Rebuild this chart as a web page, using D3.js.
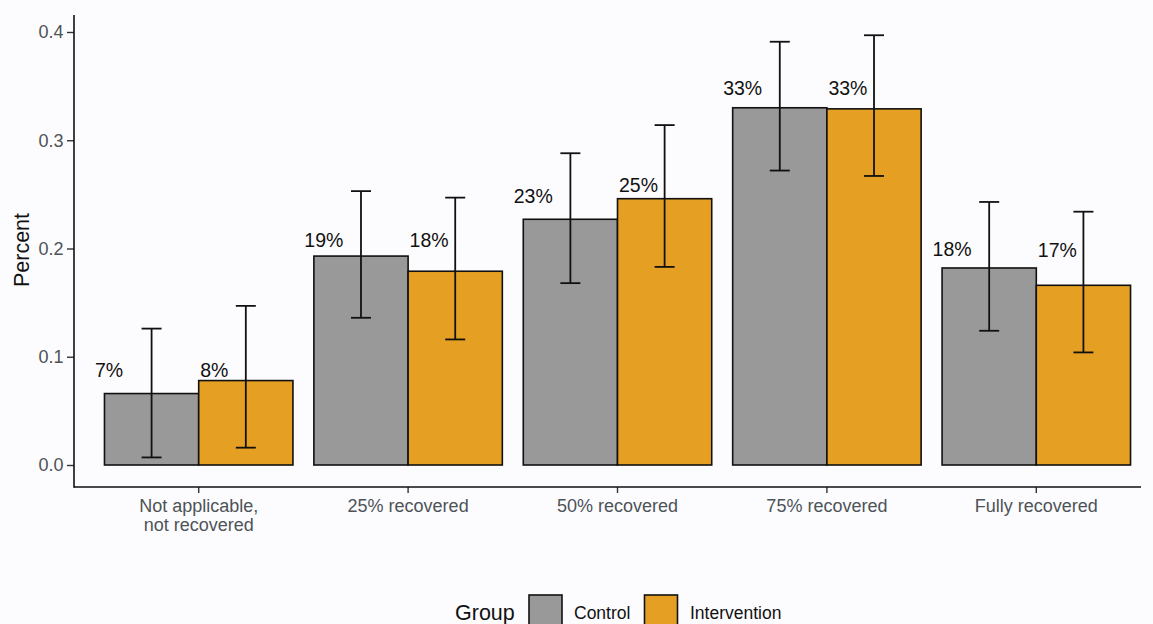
<!DOCTYPE html>
<html>
<head>
<meta charset="utf-8">
<script src="https://cdn.jsdelivr.net/npm/d3@7"></script>
<style>
  html, body { margin: 0; padding: 0; background: #fcfcfe; }
  svg { display: block; font-family: "Liberation Sans", Arial, Helvetica, sans-serif; }
</style>
</head>
<body>
<svg id="chart" width="1153" height="624"></svg>
<script>
// Recovery categories (x axis)
const categories = [
  "Not applicable,\nnot recovered",
  "25% recovered",
  "50% recovered",
  "75% recovered",
  "Fully recovered"
];
const groups = ["Control", "Intervention"];

// Proportion of participants in each category, per group
const controlPct      = [0.066, 0.193, 0.227, 0.330, 0.182];
const interventionPct = [0.078, 0.179, 0.246, 0.329, 0.166];

// Confidence interval bounds
const controlLower      = [0.007, 0.136, 0.168, 0.272, 0.124];
const controlUpper      = [0.126, 0.253, 0.288, 0.391, 0.243];
const interventionLower = [0.016, 0.116, 0.183, 0.267, 0.104];
const interventionUpper = [0.147, 0.247, 0.314, 0.397, 0.234];

const yTicks = [0, 0.1, 0.2, 0.3, 0.4];

// ---- layout ----
const colors = { Control: "#999999", Intervention: "#E5A024" };
const axisTextColor = "#4d5357";

// Vertical lift (px) of each percentage label above its bar top,
// so labels clear the error bars.
const labelLift = {
  Control:      [16.6, 9.5, 16, 12.8, 11.5],
  Intervention: [3.6, 24.5, 6.7, 14, 28.8]
};

const rows = [];
categories.forEach((c, i) => {
  rows.push({ cat: c, i, group: "Control", value: controlPct[i], lo: controlLower[i], hi: controlUpper[i] });
  rows.push({ cat: c, i, group: "Intervention", value: interventionPct[i], lo: interventionLower[i], hi: interventionUpper[i] });
});

const svg = d3.select("#chart");

const x = d3.scaleBand().domain(categories).range([94, 1141]).paddingInner(0.1).paddingOuter(0.05);
const xg = d3.scaleBand().domain(groups).range([0, x.bandwidth()]);
const y = d3.scaleLinear().domain([0, 0.4]).range([465, 32]);

const axisX0 = 74, axisY0 = 487;

// bars
svg.append("g").selectAll("rect").data(rows).join("rect")
  .attr("x", d => x(d.cat) + xg(d.group))
  .attr("y", d => y(d.value))
  .attr("width", xg.bandwidth())
  .attr("height", d => y(0) - y(d.value))
  .attr("fill", d => colors[d.group])
  .attr("stroke", "#111")
  .attr("stroke-width", 1.6);

// error bars
const capHalf = 10;
const errG = svg.append("g").attr("stroke", "#111").attr("stroke-width", 1.8).attr("fill", "none");
rows.forEach(d => {
  const cx = x(d.cat) + xg(d.group) + xg.bandwidth() / 2;
  errG.append("line").attr("x1", cx).attr("x2", cx).attr("y1", y(d.hi)).attr("y2", y(d.lo));
  errG.append("line").attr("x1", cx - capHalf).attr("x2", cx + capHalf).attr("y1", y(d.hi)).attr("y2", y(d.hi));
  errG.append("line").attr("x1", cx - capHalf).attr("x2", cx + capHalf).attr("y1", y(d.lo)).attr("y2", y(d.lo));
});

// percentage labels
const fmt = d3.format(".0%");
svg.append("g").selectAll("text").data(rows).join("text")
  .attr("x", d => x(d.cat) + xg(d.group) + (d.group === "Control" ? -9.5 : 1.5))
  .attr("y", d => y(d.value) - labelLift[d.group][d.i])
  .attr("font-size", 19.5)
  .attr("fill", "#111")
  .text(d => fmt(d.value));

// y axis
const yAxis = d3.axisLeft(y).tickValues(yTicks).tickFormat(d3.format(".1f")).tickSize(7).tickSizeOuter(0).tickPadding(3.5);
const gy = svg.append("g").attr("transform", `translate(${axisX0},0)`).call(yAxis);
gy.select(".domain").remove();
gy.selectAll(".tick line").attr("stroke", "#333").attr("stroke-width", 1.4);
gy.selectAll(".tick text").attr("font-size", 18).attr("fill", axisTextColor);
gy.attr("font-family", null).attr("font-size", null);

// x axis
const xAxis = d3.axisBottom(x).tickSize(6).tickSizeOuter(0).tickFormat("");
const gx = svg.append("g").attr("transform", `translate(0,${axisY0})`).call(xAxis);
gx.select(".domain").remove();
gx.attr("font-family", null).attr("font-size", null);
gx.selectAll(".tick line").attr("stroke", "#333").attr("stroke-width", 1.4);
gx.selectAll(".tick").each(function(d) {
  const t = d3.select(this).append("text")
    .attr("text-anchor", "middle")
    .attr("fill", axisTextColor)
    .attr("font-size", 18);
  d.split("\n").forEach((line, k) => {
    t.append("tspan").attr("x", 0).attr("y", 24.5 + k * 19.5).text(line);
  });
});

// axis lines
svg.append("line").attr("x1", axisX0).attr("x2", axisX0).attr("y1", 15).attr("y2", axisY0 + 0.7)
  .attr("stroke", "#111").attr("stroke-width", 1.6);
svg.append("line").attr("x1", axisX0).attr("x2", 1141).attr("y1", axisY0).attr("y2", axisY0)
  .attr("stroke", "#111").attr("stroke-width", 1.6);

// y axis title
svg.append("text")
  .attr("transform", `translate(29,250) rotate(-90)`)
  .attr("text-anchor", "middle")
  .attr("font-size", 21.5)
  .attr("fill", "#111")
  .text("Percent");

// legend
const leg = svg.append("g");
leg.append("text").attr("x", 455).attr("y", 619.5).attr("font-size", 21.5).attr("fill", "#111").text("Group");
const legItems = [
  { g: "Control", box: 529, text: 574 },
  { g: "Intervention", box: 644.5, text: 690 }
];
legItems.forEach(it => {
  leg.append("rect").attr("x", it.box).attr("y", 595).attr("width", 33).attr("height", 33)
    .attr("fill", colors[it.g]).attr("stroke", "#111").attr("stroke-width", 1.6);
  leg.append("text").attr("x", it.text).attr("y", 619).attr("font-size", 17.5).attr("fill", "#111").text(it.g);
});
</script>
</body>
</html>
